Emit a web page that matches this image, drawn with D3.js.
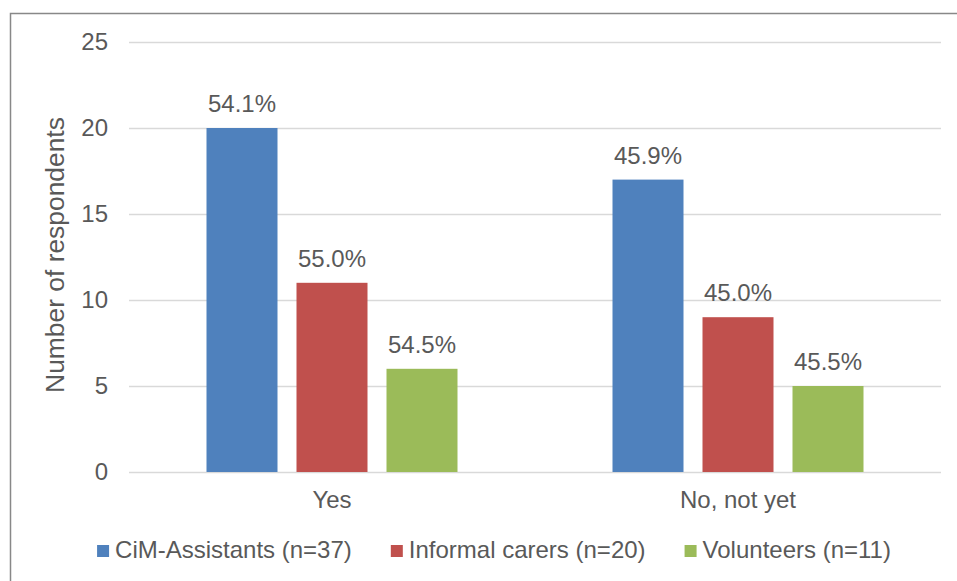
<!DOCTYPE html>
<html>
<head>
<meta charset="utf-8">
<script src="https://cdn.jsdelivr.net/npm/d3@7"></script>
<style>
    body { margin: 0; background: #fff; }
    text { font-family: "Liberation Sans", Arial, sans-serif; fill: #595959; }
</style>
</head>
<body>
<svg id="chart" width="957" height="581"></svg>
<script>
"use strict"

// Data
var categories = ["Yes", "No, not yet"];
var seriesNames = ["CiM-Assistants (n=37)", "Informal carers (n=20)", "Volunteers (n=11)"];
var seriesColors = ["#4F81BD", "#C0504D", "#9BBB59"];
var counts = [
    [20, 17],   // CiM-Assistants
    [11, 9],    // Informal carers
    [6, 5]      // Volunteers
];
var percentLabels = [
    ["54.1%", "45.9%"],
    ["55.0%", "45.0%"],
    ["54.5%", "45.5%"]
];
var yTicks = [0, 5, 10, 15, 20, 25];

var svg = d3.select("#chart");
var fontSize = 24;

// outer frame (runs off the right / bottom edge like the original)
svg.append("rect")
    .attr("x", 10.5)
    .attr("y", 13.5)
    .attr("width", 1000)
    .attr("height", 1000)
    .attr("fill", "none")
    .attr("stroke", "#888")
    .attr("stroke-width", 1.5);

var plotLeft = 129, plotRight = 941, plotTop = 42, plotBottom = 472;

var x0 = d3.scaleBand()
    .domain(categories)
    .range([plotLeft, plotRight])
    .paddingInner(0)
    .paddingOuter(0);

// bars 71 wide, gaps 19 -> group 251 inside a 406 band
var x1 = d3.scaleBand()
    .domain(d3.range(seriesNames.length))
    .range([77.5, x0.bandwidth() - 77.5])
    .paddingInner(19 / 90);

var y = d3.scaleLinear()
    .domain([0, 25])
    .range([plotBottom, plotTop]);

// gridlines
svg.append("g")
    .selectAll("line")
    .data(yTicks)
    .enter()
    .append("line")
    .attr("x1", plotLeft)
    .attr("x2", plotRight)
    .attr("y1", function (d) { return Math.round(y(d)) + 0.5; })
    .attr("y2", function (d) { return Math.round(y(d)) + 0.5; })
    .attr("stroke", "#D9D9D9")
    .attr("stroke-width", 1.5);

// y tick labels
svg.append("g")
    .selectAll("text")
    .data(yTicks)
    .enter()
    .append("text")
    .attr("x", 108)
    .attr("y", function (d) { return y(d); })
    .attr("dy", "0.35em")
    .attr("text-anchor", "end")
    .style("font-size", fontSize + "px")
    .text(function (d) { return d; });

// y axis title
svg.append("text")
    .attr("transform", "translate(64,255) rotate(-90)")
    .attr("text-anchor", "middle")
    .style("font-size", "26.4px")
    .text("Number of respondents");

// flatten into one record per bar
var bars = [];
seriesNames.forEach(function (name, s) {
    categories.forEach(function (cat, c) {
        bars.push({
            "series": s,
            "cat": cat,
            "value": counts[s][c],
            "label": percentLabels[s][c]
        });
    });
});

svg.append("g")
    .selectAll("rect")
    .data(bars)
    .enter()
    .append("rect")
    .attr("x", function (d) { return x0(d.cat) + x1(d.series); })
    .attr("y", function (d) { return y(d.value); })
    .attr("width", x1.bandwidth())
    .attr("height", function (d) { return plotBottom - y(d.value); })
    .attr("fill", function (d) { return seriesColors[d.series]; });

// value labels above bars
svg.append("g")
    .selectAll("text")
    .data(bars)
    .enter()
    .append("text")
    .attr("x", function (d) { return x0(d.cat) + x1(d.series) + x1.bandwidth() / 2; })
    .attr("y", function (d) { return y(d.value) - 16; })
    .attr("text-anchor", "middle")
    .style("font-size", fontSize + "px")
    .text(function (d) { return d.label; });

// category labels
svg.append("g")
    .selectAll("text")
    .data(categories)
    .enter()
    .append("text")
    .attr("x", function (d) { return x0(d) + x0.bandwidth() / 2; })
    .attr("y", 508)
    .attr("text-anchor", "middle")
    .style("font-size", fontSize + "px")
    .text(function (d) { return d; });

// legend
var legend = svg.append("g").attr("class", "legend");
var boxWidth = 12, boxGap = 6, itemGap = 39;
var items = legend.selectAll("g")
    .data(seriesNames)
    .enter()
    .append("g");
items.append("rect")
    .attr("width", boxWidth)
    .attr("height", boxWidth)
    .attr("y", 545)
    .attr("fill", function (d, i) { return seriesColors[i]; });
items.append("text")
    .attr("x", boxWidth + boxGap)
    .attr("y", 558)
    .style("font-size", fontSize + "px")
    .text(function (d) { return d; });

var pos = 0;
var offsets = [];
items.each(function () {
    var w = d3.select(this).select("text").node().getComputedTextLength();
    offsets.push(pos);
    pos += boxWidth + boxGap + w + itemGap;
});
var total = pos - itemGap;
var startX = 494 - total / 2;
items.attr("transform", function (d, i) {
    return "translate(" + (startX + offsets[i]) + ",0)";
});
</script>
</body>
</html>
